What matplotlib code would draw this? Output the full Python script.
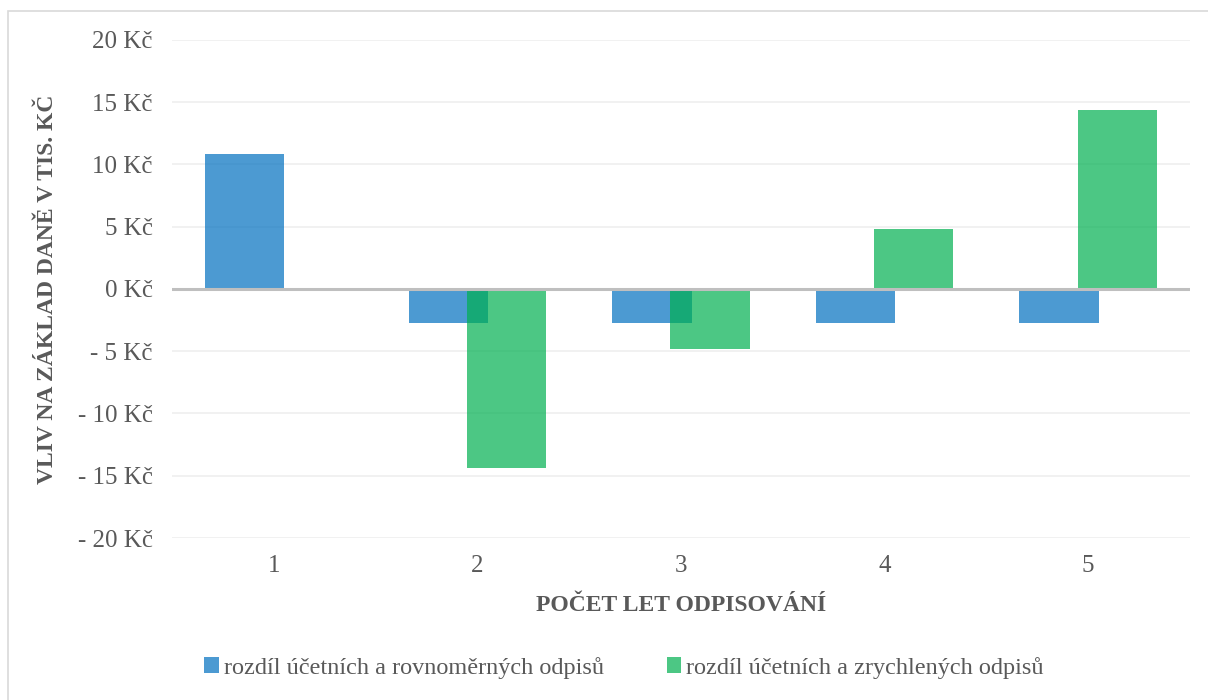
import numpy as np
import matplotlib
matplotlib.use('Agg')
import matplotlib.pyplot as plt
from matplotlib.patches import Rectangle

plt.rcParams['font.family'] = ['Liberation Serif', 'DejaVu Serif']

# data (tis. Kc)
roky = [1, 2, 3, 4, 5]
rovnomerne = [10.8, -2.7, -2.7, -2.7, -2.7]
zrychlene = [0.0, -14.4, -4.8, 4.8, 14.4]
yticks = [-20, -15, -10, -5, 0, 5, 10, 15, 20]
ytick_labels = ['- 20 Kč', '- 15 Kč', '- 10 Kč', '- 5 Kč', '0 Kč',
                '5 Kč', '10 Kč', '15 Kč', '20 Kč']
nazvy = ['rozdíl účetních a rovnoměrných odpisů',
         'rozdíl účetních a zrychlených odpisů']

text_col = '#595959'

fig = plt.figure(figsize=(12.08, 7.0), dpi=100)
ax = fig.add_axes([0.1424, 0.2314, 0.8426, 0.7116])

x = np.array(roky)
w = 0.39
off = 0.143
ax.bar(x - off, rovnomerne, w, color='#0070C0', alpha=0.7, zorder=2,
       label=nazvy[0])
ax.bar(x + off, zrychlene, w, color='#00B050', alpha=0.7, zorder=3,
       label=nazvy[1])

ax.axhline(0, color='#bfbfbf', lw=2.2, zorder=4)
ax.set_xlim(0.5, 5.5)
ax.set_ylim(-20, 20)
ax.set_yticks(yticks)
ax.set_yticklabels(ytick_labels)
ax.set_xticks(roky)
ax.set_xticklabels([str(r) for r in roky])
ax.grid(axis='y', color='#efefef', lw=1.2, zorder=0)
ax.set_axisbelow(True)
for s in ax.spines.values():
    s.set_visible(False)
ax.tick_params(length=0, labelsize=18, colors=text_col)
ax.tick_params(axis='y', pad=14)
ax.tick_params(axis='x', pad=12)

ax.set_xlabel('POČET LET ODPISOVÁNÍ', fontsize=17, fontweight='bold',
              color=text_col, labelpad=13)
ax.set_ylabel('VLIV NA ZÁKLAD DANĚ V TIS. KČ', fontsize=17, fontweight='bold',
              color=text_col, labelpad=14)

leg = fig.legend(loc='center', bbox_to_anchor=(0.5166, 0.046), ncol=2,
                 frameon=False, fontsize=17.5, handlelength=0.6, handleheight=0.6,
                 handletextpad=0.2, columnspacing=2.6)
for t in leg.get_texts():
    t.set_color(text_col)

# outer chart border
fig.patches.append(Rectangle((8 / 1208, -0.01), 1.1, 1 - 11 / 700 + 0.01,
                             transform=fig.transFigure, fill=False,
                             edgecolor='#d9d9d9', lw=1.2))

fig.savefig('out.png', dpi=100)
